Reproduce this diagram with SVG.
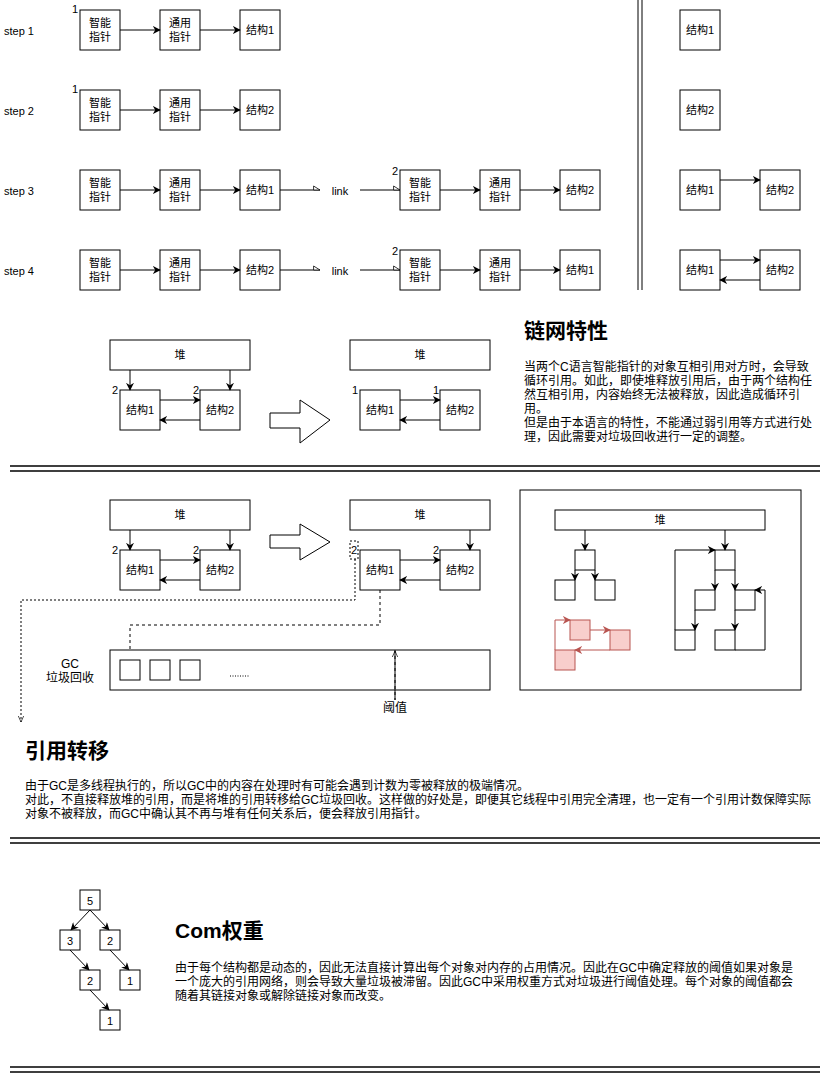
<svg xmlns="http://www.w3.org/2000/svg" width="821" height="1073" viewBox="0 0 821 1073">
<defs>
<marker id="a" viewBox="0 0 10 10" refX="9" refY="5" markerWidth="8" markerHeight="8" orient="auto"><path d="M0,0 L10,5 L0,10 L3,5 Z" fill="#000"/></marker>
<marker id="r" viewBox="0 0 10 10" refX="9" refY="5" markerWidth="8" markerHeight="8" orient="auto"><path d="M0,0 L10,5 L0,10 L3,5 Z" fill="#b85450"/></marker>
<marker id="o" viewBox="0 0 10 10" refX="9" refY="8" markerWidth="8" markerHeight="8" orient="auto"><path d="M1,3 L9,8 L1,8 Z" fill="#fff" stroke="#000" stroke-width="1"/></marker>
<marker id="v" viewBox="0 0 10 10" refX="9" refY="5" markerWidth="7" markerHeight="7" orient="auto"><path d="M0,1 L9,5 L0,9" fill="none" stroke="#000" stroke-width="1"/></marker>
</defs>
<style>
text{font-family:"Liberation Sans","Noto Sans CJK SC",sans-serif;font-size:11px;fill:#000}
.c{text-anchor:middle}
.d{font-size:12px}
.b{fill:#fff;stroke:#000;stroke-width:1}
.p{fill:#f8cecc;stroke:#b85450;stroke-width:1}
.l{fill:none;stroke:#000;stroke-width:1}
.m{fill:none;stroke:#000;stroke-width:1;marker-end:url(#a)}
.n{fill:none;stroke:#000;stroke-width:1;marker-end:url(#o)}
.q{fill:none;stroke:#b85450;stroke-width:1;marker-end:url(#r)}
.t{font-size:21px;font-weight:bold}
.s{fill:none;stroke:#000;stroke-width:1.5}
</style>
<rect width="821" height="1073" fill="#fff"/>
<g id="labels">
<text x="4" y="35">step 1</text><text x="4" y="115">step 2</text><text x="4" y="195">step 3</text><text x="4" y="275">step 4</text>
<text x="340" y="195" class="c">link</text><text x="340" y="275" class="c">link</text>
<text x="75" y="13" class="c">1</text><text x="75" y="93" class="c">1</text><text x="395" y="175" class="c">2</text><text x="395" y="255" class="c">2</text>
</g>
<g id="row1"><rect class="b" x="80" y="10" width="40" height="40"/><text class="c" x="100" y="27">智能</text><text class="c" x="100" y="41">指针</text>
<rect class="b" x="160" y="10" width="40" height="40"/><text class="c" x="180" y="27">通用</text><text class="c" x="180" y="41">指针</text>
<rect class="b" x="240" y="10" width="40" height="40"/><text class="c" x="260" y="34">结构1</text></g>
<g id="row2"><rect class="b" x="80" y="90" width="40" height="40"/><text class="c" x="100" y="107">智能</text><text class="c" x="100" y="121">指针</text>
<rect class="b" x="160" y="90" width="40" height="40"/><text class="c" x="180" y="107">通用</text><text class="c" x="180" y="121">指针</text>
<rect class="b" x="240" y="90" width="40" height="40"/><text class="c" x="260" y="114">结构2</text></g>
<g id="row3"><rect class="b" x="80" y="170" width="40" height="40"/><text class="c" x="100" y="187">智能</text><text class="c" x="100" y="201">指针</text>
<rect class="b" x="160" y="170" width="40" height="40"/><text class="c" x="180" y="187">通用</text><text class="c" x="180" y="201">指针</text>
<rect class="b" x="240" y="170" width="40" height="40"/><text class="c" x="260" y="194">结构1</text>
<rect class="b" x="400" y="170" width="40" height="40"/><text class="c" x="420" y="187">智能</text><text class="c" x="420" y="201">指针</text>
<rect class="b" x="480" y="170" width="40" height="40"/><text class="c" x="500" y="187">通用</text><text class="c" x="500" y="201">指针</text>
<rect class="b" x="560" y="170" width="40" height="40"/><text class="c" x="580" y="194">结构2</text></g>
<g id="row4"><rect class="b" x="80" y="250" width="40" height="40"/><text class="c" x="100" y="267">智能</text><text class="c" x="100" y="281">指针</text>
<rect class="b" x="160" y="250" width="40" height="40"/><text class="c" x="180" y="267">通用</text><text class="c" x="180" y="281">指针</text>
<rect class="b" x="240" y="250" width="40" height="40"/><text class="c" x="260" y="274">结构2</text>
<rect class="b" x="400" y="250" width="40" height="40"/><text class="c" x="420" y="267">智能</text><text class="c" x="420" y="281">指针</text>
<rect class="b" x="480" y="250" width="40" height="40"/><text class="c" x="500" y="267">通用</text><text class="c" x="500" y="281">指针</text>
<rect class="b" x="560" y="250" width="40" height="40"/><text class="c" x="580" y="274">结构1</text></g>
<g id="right"><rect class="b" x="680" y="10" width="40" height="40"/><text class="c" x="700" y="34">结构1</text>
<rect class="b" x="680" y="90" width="40" height="40"/><text class="c" x="700" y="114">结构2</text>
<rect class="b" x="680" y="170" width="40" height="40"/><text class="c" x="700" y="194">结构1</text>
<rect class="b" x="760" y="170" width="40" height="40"/><text class="c" x="780" y="194">结构2</text>
<rect class="b" x="680" y="250" width="40" height="40"/><text class="c" x="700" y="274">结构1</text>
<rect class="b" x="760" y="250" width="40" height="40"/><text class="c" x="780" y="274">结构2</text></g>
<g id="connectors">
<path class="m" d="M120,30H160"/><path class="m" d="M200,30H240"/>
<path class="m" d="M120,110H160"/><path class="m" d="M200,110H240"/>
<path class="m" d="M120,190H160"/><path class="m" d="M200,190H240"/>
<path class="m" d="M120,270H160"/><path class="m" d="M200,270H240"/>
<path class="m" d="M440,190H480"/><path class="m" d="M520,190H560"/>
<path class="m" d="M440,270H480"/><path class="m" d="M520,270H560"/>
<path class="m" d="M720,180H760"/><path class="m" d="M720,260H760"/><path class="m" d="M760,280H720"/>
<path class="n" d="M280,190H320"/><path class="n" d="M360,190H400"/>
<path class="n" d="M280,270H320"/><path class="n" d="M360,270H400"/>
<path class="l" d="M638,0V290M642,0V290"/>
</g>
<g id="sec2">
<rect class="b" x="110" y="340" width="140" height="30"/><text class="c" x="180" y="359">堆</text>
<rect class="b" x="120" y="390" width="40" height="40"/><text class="c" x="140" y="414">结构1</text>
<rect class="b" x="200" y="390" width="40" height="40"/><text class="c" x="220" y="414">结构2</text>
<text x="112" y="394">2</text><text x="193" y="394">2</text>
<path class="m" d="M130,370V390"/><path class="m" d="M230,370V390"/><path class="m" d="M160,400H200"/><path class="m" d="M200,420H160"/>
<path class="b" d="M270,413H300V400L330,420L300,443V428H270Z"/>
<rect class="b" x="350" y="340" width="140" height="30"/><text class="c" x="420" y="359">堆</text>
<rect class="b" x="360" y="390" width="40" height="40"/><text class="c" x="380" y="414">结构1</text>
<rect class="b" x="440" y="390" width="40" height="40"/><text class="c" x="460" y="414">结构2</text>
<text x="352" y="394">1</text><text x="433" y="394">1</text>
<path class="m" d="M400,400H440"/><path class="m" d="M440,420H400"/>
<text x="524" y="338" class="t">链网特性</text>
<text class="d" x="524" y="371">当两个C语言智能指针的对象互相引用对方时，会导致</text>
<text class="d" x="524" y="385">循环引用。如此，即使堆释放引用后，由于两个结构任</text>
<text class="d" x="524" y="399">然互相引用，内容始终无法被释放，因此造成循环引</text>
<text class="d" x="524" y="413">用。</text>
<text class="d" x="524" y="427">但是由于本语言的特性，不能通过弱引用等方式进行处</text>
<text class="d" x="524" y="441">理，因此需要对垃圾回收进行一定的调整。</text>
<path class="s" d="M10,466H820M10,471H820"/>
</g>
<g id="sec3">
<rect class="b" x="110" y="500" width="140" height="30"/><text class="c" x="180" y="519">堆</text>
<rect class="b" x="120" y="550" width="40" height="40"/><text class="c" x="140" y="574">结构1</text>
<rect class="b" x="200" y="550" width="40" height="40"/><text class="c" x="220" y="574">结构2</text>
<text x="112" y="554">2</text><text x="193" y="554">2</text>
<path class="m" d="M130,530V550"/><path class="m" d="M230,530V550"/><path class="m" d="M160,560H200"/><path class="m" d="M200,580H160"/>
<path class="b" d="M270,535H300V524L330,542L300,560V548H270Z"/>
<rect class="b" x="350" y="500" width="140" height="30"/><text class="c" x="420" y="519">堆</text>
<rect class="b" x="360" y="550" width="40" height="40"/><text class="c" x="380" y="574">结构1</text>
<rect class="b" x="440" y="550" width="40" height="40"/><text class="c" x="460" y="574">结构2</text>
<rect x="350" y="541" width="8" height="18" fill="none" stroke="#000" stroke-dasharray="2,2"/>
<text x="351" y="554">2</text><text x="433" y="554">2</text>
<path class="m" d="M470,530V550"/><path class="m" d="M400,560H440"/><path class="m" d="M440,580H400"/>
<path class="l" d="M355,559V600H21V722" stroke-dasharray="2,2" marker-end="url(#v)"/>
<path class="l" d="M380,590V625H130V658" stroke-dasharray="3,3" marker-end="url(#v)"/>
<rect class="b" x="110" y="650" width="380" height="40"/>
<rect class="b" x="120" y="660" width="20" height="20"/><rect class="b" x="150" y="660" width="20" height="20"/><rect class="b" x="180" y="660" width="20" height="20"/>
<path class="l" d="M230,676H250" stroke-dasharray="1,1.5"/>
<path class="l" d="M395,650V700" stroke-dasharray="3,3"/>
<path class="l" d="M395,700V651" marker-end="url(#v)"/>
<text class="c d" x="395" y="712">阈值</text>
<text class="c d" x="70" y="668">GC</text><text class="c d" x="70" y="682">垃圾回收</text>
</g>
<g id="panel">
<rect class="b" x="520" y="490" width="281" height="200"/>
<rect class="b" x="555" y="510" width="210" height="20"/><text class="c" x="660" y="524">堆</text>
<rect class="b" x="575" y="550" width="20" height="20"/><rect class="b" x="555" y="580" width="20" height="20"/><rect class="b" x="595" y="580" width="20" height="20"/>
<path class="m" d="M585,530V550"/><path class="m" d="M575,570V580"/><path class="m" d="M595,570V580"/>
<rect class="b" x="715" y="550" width="20" height="20"/><rect class="b" x="695" y="590" width="20" height="20"/><rect class="b" x="735" y="590" width="20" height="20"/>
<rect class="b" x="675" y="630" width="20" height="20"/><rect class="b" x="715" y="630" width="20" height="20"/>
<path class="m" d="M725,530V550"/><path class="m" d="M715,570V590"/><path class="m" d="M735,570V590"/><path class="m" d="M695,610V630"/><path class="m" d="M735,610V630"/>
<path class="m" d="M675,630V550H715"/><path class="m" d="M735,650H765V590H755"/>
<rect class="p" x="570" y="620" width="20" height="20"/><rect class="p" x="610" y="630" width="20" height="20"/><rect class="p" x="555" y="650" width="20" height="20"/>
<path class="q" d="M555,650V620H570"/><path class="q" d="M590,630H610"/><path class="q" d="M610,650H575"/>
</g>
<g id="sec4">
<text x="25" y="758" class="t">引用转移</text>
<text class="d" x="25" y="790">由于GC是多线程执行的，所以GC中的内容在处理时有可能会遇到计数为零被释放的极端情况。</text>
<text class="d" x="25" y="804">对此，不直接释放堆的引用，而是将堆的引用转移给GC垃圾回收。这样做的好处是，即便其它线程中引用完全清理，也一定有一个引用计数保障实际</text>
<text class="d" x="25" y="818">对象不被释放，而GC中确认其不再与堆有任何关系后，便会释放引用指针。</text>
<path class="s" d="M10,838H820M10,843H820"/>
</g>
<g id="sec5">
<rect class="b" x="80" y="890" width="20" height="20"/><text class="c" x="90" y="905">5</text>
<rect class="b" x="60" y="930" width="20" height="20"/><text class="c" x="70" y="945">3</text>
<rect class="b" x="100" y="930" width="20" height="20"/><text class="c" x="110" y="945">2</text>
<rect class="b" x="80" y="970" width="20" height="20"/><text class="c" x="90" y="985">2</text>
<rect class="b" x="120" y="970" width="20" height="20"/><text class="c" x="130" y="985">1</text>
<rect class="b" x="100" y="1010" width="20" height="20"/><text class="c" x="110" y="1025">1</text>
<path class="m" d="M90,910L71,930"/><path class="m" d="M90,910L109,930"/><path class="m" d="M70,950L89,970"/><path class="m" d="M110,950L129,970"/><path class="m" d="M90,990L109,1010"/>
<text x="175" y="938" class="t">Com权重</text>
<text class="d" x="175" y="972">由于每个结构都是动态的，因此无法直接计算出每个对象对内存的占用情况。因此在GC中确定释放的阈值如果对象是</text>
<text class="d" x="175" y="986">一个庞大的引用网络，则会导致大量垃圾被滞留。因此GC中采用权重方式对垃圾进行阈值处理。每个对象的阈值都会</text>
<text class="d" x="175" y="1000">随着其链接对象或解除链接对象而改变。</text>
<path class="s" d="M10,1067H820M10,1072H820"/>
</g>
</svg>
